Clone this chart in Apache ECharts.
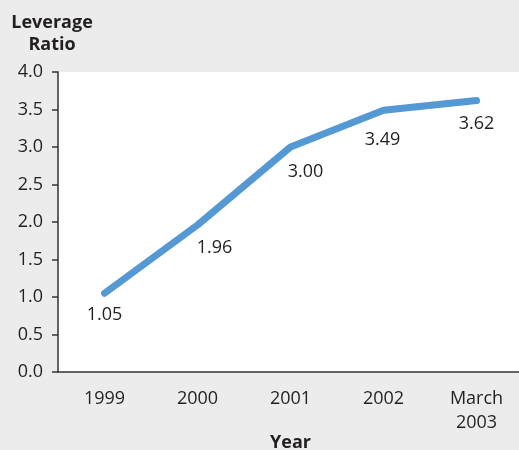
<!DOCTYPE html>
<html>
<head>
<meta charset="utf-8">
<script src="https://cdn.jsdelivr.net/npm/echarts@6/dist/echarts.min.js"></script>
<style>
  html, body { margin: 0; padding: 0; background: #ebeceb; }
  #chart { width: 519px; height: 450px; }
</style>
</head>
<body>
<div id="chart"></div>
<script>
  // data
  let years = ['1999', '2000', '2001', '2002', 'March\n2003']
  let leverage = [1.05, 1.96, 3.00, 3.49, 3.62]
  // where each value label sits relative to its point
  let labelShift = [[0, 12], [17, 13], [15, 15], [-1, 20], [0, 14]]

  let font = '"Open Sans", "DejaVu Sans", sans-serif'
  let ink = '#231f20'

  let myChart = echarts.init(document.getElementById('chart'))
  let option = {
    backgroundColor: '#ebeceb',
    textStyle: { fontFamily: font },
    title: {
      text: 'Leverage\nRatio',
      left: 47,
      top: 7,
      textAlign: 'center',
      textStyle: { fontSize: 18, fontWeight: 'bold', color: ink, lineHeight: 22, fontFamily: font }
    },
    grid: {
      show: true,
      backgroundColor: '#ffffff',
      borderWidth: 0,
      left: 58,
      top: 72,
      width: 465,
      height: 300,
      containLabel: false,
      outerBoundsMode: 'none'
    },
    xAxis: {
      type: 'category',
      data: years,
      boundaryGap: true,
      name: 'Year',
      nameLocation: 'middle',
      nameGap: 62,
      nameMoveOverlap: false,
      nameTextStyle: { fontSize: 18, fontWeight: 'bold', color: ink },
      axisLine: { lineStyle: { color: '#333', width: 1.5 } },
      axisTick: { length: 6, lineStyle: { color: '#333', width: 1.5 } },
      axisLabel: { fontSize: 18, color: ink, margin: 15, lineHeight: 24 }
    },
    yAxis: {
      type: 'value',
      min: 0,
      max: 4,
      interval: 0.5,
      splitLine: { show: false },
      axisLine: { show: true, lineStyle: { color: '#333', width: 1.5 } },
      axisTick: { show: true, length: 6, lineStyle: { color: '#333', width: 1.5 } },
      axisLabel: {
        fontSize: 18,
        color: ink,
        margin: 15,
        formatter: v => v.toFixed(1)
      }
    },
    series: [{
      type: 'line',
      data: leverage.map((v, i) => ({
        value: v,
        label: { offset: labelShift[i] }
      })),
      symbol: 'circle',
      symbolSize: 1,
      showSymbol: true,
      itemStyle: { color: 'rgba(0,0,0,0)' },
      lineStyle: { color: '#5499d3', width: 7, cap: 'round', join: 'round' },
      label: {
        show: true,
        position: 'bottom',
        distance: 0,
        fontSize: 18,
        color: ink,
        formatter: p => p.value.toFixed(2)
      },
      animation: false
    }]
  }
  myChart.setOption(option)
</script>
</body>
</html>
